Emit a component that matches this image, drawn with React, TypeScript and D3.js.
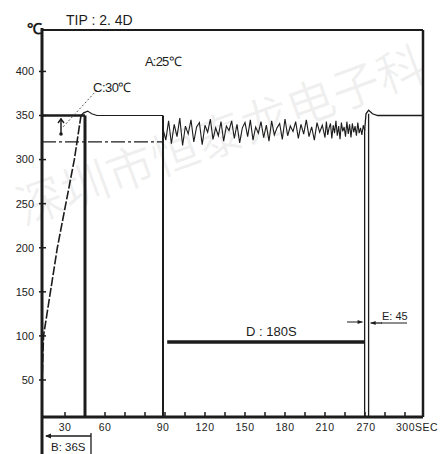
import React, { useEffect, useRef } from "react";
import * as d3 from "d3";

// axis labels
const tempTicks = [50, 100, 150, 200, 250, 300, 350, 400];
const timeTicks = [30, 60, 90, 120, 150, 180, 210, 270, 300];
const timeLabels = ["30", "60", "90", "120", "150", "180", "210", "270", "300SEC"];

// heat-up ramp (dashed) then overshoot and settle at set point
const rampTime = [0, 2, 20, 37, 42];
const rampTemp = [45, 100, 200, 300, 350];
const settleTime = [42, 44, 47, 50, 54, 90];
const settleTemp = [350, 353, 355, 352, 350, 350];

// D phase: tip under load, 90s .. 268s every 2s
const loadStart = 90;
const loadStep = 2;
const loadTemp = [
  335, 322, 344, 318, 340, 326, 347, 316, 338, 329,
  345, 320, 337, 342, 317, 339, 331, 346, 323, 336,
  327, 343, 321, 338, 333, 344, 324, 340, 319, 336,
  342, 326, 345, 322, 337, 330, 343, 325, 339, 321,
  344, 328, 336, 341, 323, 346, 327, 338, 332, 343,
  324, 340, 329, 345, 326, 337, 322, 342, 331, 339,
  325, 343, 328, 336, 341, 324, 339, 330, 344, 327,
  338, 323, 342, 332, 337, 326, 343, 329, 340, 325,
  341, 331, 338, 327, 342, 330, 336, 328, 339, 333,
];

// recovery after load removed
const recTime = [268, 270, 272, 275, 279, 313];
const recTemp = [333, 352, 356, 352, 350, 350];

const setPoint = 350;
const lowLine = 320;
const ink = "#1c1c1c";

function App() {
  const ref = useRef<SVGSVGElement>(null);

  useEffect(() => {
    const h = 454;
    const svg = d3.select(ref.current);
    svg.selectAll("*").remove();

    // the printed time axis is not uniform, so use a polylinear scale
    const x = d3
      .scaleLinear()
      .domain([0, 30, 60, 90, 120, 150, 180, 210, 270, 300, 313])
      .range([42, 65, 105, 163, 205, 245, 285, 325, 366, 405, 423]);
    const y = d3.scaleLinear().domain([8, 447]).range([417, 30]);

    const font = "'Liberation Sans', Arial, sans-serif";

    // watermark
    svg
      .append("text")
      .attr("transform", "translate(222,140) rotate(-20)")
      .attr("text-anchor", "middle")
      .attr("dominant-baseline", "middle")
      .attr("font-family", "'Noto Sans CJK SC', sans-serif")
      .attr("font-size", 48)
      .attr("fill", "#000")
      .attr("fill-opacity", 0.06)
      .text("深圳市恒泰龙电子科");

    const x0 = x(0);
    const x1 = x(313);
    const yTop = y(447);
    const yBot = y(8);

    // frame
    svg.append("line").attr("x1", x0).attr("x2", x1).attr("y1", yTop).attr("y2", yTop)
      .attr("stroke", ink).attr("stroke-width", 2);
    svg.append("line").attr("x1", x1).attr("x2", x1).attr("y1", yTop).attr("y2", yBot)
      .attr("stroke", ink).attr("stroke-width", 2.5);
    svg.append("line").attr("x1", x0).attr("x2", x1).attr("y1", yBot).attr("y2", yBot)
      .attr("stroke", ink).attr("stroke-width", 3);
    svg.append("line").attr("x1", x0).attr("x2", x0).attr("y1", yTop - 2).attr("y2", h)
      .attr("stroke", ink).attr("stroke-width", 3);

    // y ticks + labels
    const yt = svg.append("g");
    yt.selectAll("line").data(tempTicks).enter().append("line")
      .attr("x1", x0 - 3).attr("x2", x0 + 4)
      .attr("y1", (d) => y(d)).attr("y2", (d) => y(d))
      .attr("stroke", ink).attr("stroke-width", 1.5);
    yt.selectAll("text").data(tempTicks).enter().append("text")
      .attr("x", 34).attr("y", (d) => y(d)).attr("dy", "0.35em")
      .attr("text-anchor", "end").attr("font-family", font).attr("font-size", 11)
      .attr("fill", "#222").text((d) => d);

    // x ticks
    svg.append("g").selectAll("line")
      .data(d3.range(x(30), x(300) + 1, 20)).enter().append("line")
      .attr("x1", (d) => d).attr("x2", (d) => d)
      .attr("y1", yBot).attr("y2", yBot - 5)
      .attr("stroke", ink).attr("stroke-width", 1.5);
    svg.append("g").selectAll("text")
      .data(timeTicks).enter().append("text")
      .attr("x", (d) => x(d)).attr("y", 431)
      .attr("text-anchor", (d, i) => (i === timeTicks.length - 1 ? "start" : "middle"))
      .attr("dx", (d, i) => (i === timeTicks.length - 1 ? -9 : 0))
      .attr("font-family", font).attr("font-size", 10.5)
      .attr("fill", "#222").attr("letter-spacing", 0.5)
      .text((d, i) => timeLabels[i]);

    // reference lines
    svg.append("line").attr("x1", x0).attr("x2", x(45)).attr("y1", y(setPoint)).attr("y2", y(setPoint))
      .attr("stroke", ink).attr("stroke-width", 2.5);
    svg.append("line").attr("x1", x0).attr("x2", x(90)).attr("y1", y(lowLine)).attr("y2", y(lowLine))
      .attr("stroke", ink).attr("stroke-width", 1.2).attr("stroke-dasharray", "14,3,3,3");

    // vertical phase lines
    const verts = [
      { t: 45, top: setPoint, sw: 3 },
      { t: 90, top: setPoint, sw: 2 },
      { t: 268, top: 335, sw: 1.3 },
      { t: 272, top: 352, sw: 1.3 },
    ];
    svg.append("g").selectAll("line").data(verts).enter().append("line")
      .attr("x1", (d) => x(d.t)).attr("x2", (d) => x(d.t))
      .attr("y1", (d) => y(d.top)).attr("y2", yBot)
      .attr("stroke", ink).attr("stroke-width", (d) => d.sw);

    const line = d3.line<[number, number]>().x((d) => x(d[0])).y((d) => y(d[1]));

    svg.append("path")
      .attr("d", line(rampTime.map((t, i) => [t, rampTemp[i]])))
      .attr("fill", "none").attr("stroke", ink).attr("stroke-width", 1.6)
      .attr("stroke-dasharray", "9,2");
    svg.append("path")
      .attr("d", line(settleTime.map((t, i) => [t, settleTemp[i]])))
      .attr("fill", "none").attr("stroke", ink).attr("stroke-width", 1.2);
    svg.append("path")
      .attr("d", line(loadTemp.map((v, i) => [loadStart + i * loadStep, v])))
      .attr("fill", "none").attr("stroke", ink).attr("stroke-width", 1.1);
    svg.append("path")
      .attr("d", line(recTime.map((t, i) => [t, recTemp[i]])))
      .attr("fill", "none").attr("stroke", ink).attr("stroke-width", 1.3);

    // annotations
    const txt = (tx: number, ty: number, s: string, size: number) =>
      svg.append("text").attr("x", tx).attr("y", ty).attr("font-family", font)
        .attr("font-size", size).attr("fill", ink).text(s);

    txt(27, 34, "℃", 15).attr("font-weight", "bold");
    txt(66, 25, "TIP : 2. 4D", 14);
    txt(145, 66, "A:25℃", 13).attr("letter-spacing", -0.8);
    txt(93, 92, "C:30℃", 13).attr("letter-spacing", -0.5);
    txt(246, 336, "D : 180S", 13);
    txt(382, 320, "E: 45", 11);
    txt(51, 451, "B: 36S", 11.5);

    // C leader and marker
    svg.append("line").attr("x1", 97).attr("x2", 63).attr("y1", 90).attr("y2", 127)
      .attr("stroke", "#555").attr("stroke-width", 1).attr("stroke-dasharray", "2,2");
    svg.append("line").attr("x1", 61).attr("x2", 61).attr("y1", y(setPoint) + 3).attr("y2", y(lowLine) - 8)
      .attr("stroke", ink).attr("stroke-width", 1.5);
    svg.append("circle").attr("cx", 61).attr("cy", y(lowLine) - 8).attr("r", 1.8).attr("fill", ink);
    svg.append("path").attr("d", "M58,123 L61,119 L64,123").attr("fill", "none")
      .attr("stroke", ink).attr("stroke-width", 1.4);

    // D bar
    svg.append("line").attr("x1", x(93)).attr("x2", x(268)).attr("y1", y(93)).attr("y2", y(93))
      .attr("stroke", ink).attr("stroke-width", 3.5);

    // E arrows
    const ey = 322;
    svg.append("line").attr("x1", 347).attr("x2", x(268) - 2).attr("y1", ey).attr("y2", ey)
      .attr("stroke", ink).attr("stroke-width", 1);
    svg.append("path").attr("d", `M${x(268) - 2},${ey} l-5,-2 l0,4 z`).attr("fill", ink);
    svg.append("line").attr("x1", x(272) + 2).attr("x2", 382).attr("y1", ey + 1).attr("y2", ey + 1)
      .attr("stroke", ink).attr("stroke-width", 1.3);
    svg.append("path").attr("d", `M${x(272) + 2},${ey + 1} l5,-2 l0,4 z`).attr("fill", ink);
    svg.append("line").attr("x1", 381).attr("x2", 407).attr("y1", 323).attr("y2", 323)
      .attr("stroke", ink).attr("stroke-width", 1);

    // B arrow
    svg.append("line").attr("x1", x0 + 4).attr("x2", 91).attr("y1", 436).attr("y2", 436)
      .attr("stroke", ink).attr("stroke-width", 1.3);
    svg.append("path").attr("d", `M${x0 + 3},436 l6,-2.5 l0,5 z`).attr("fill", ink);
    svg.append("line").attr("x1", 91).attr("x2", 91).attr("y1", 433).attr("y2", h)
      .attr("stroke", ink).attr("stroke-width", 1.3);
  }, []);

  return (
    <svg
      ref={ref}
      width={447}
      height={454}
      style={{ position: "absolute", left: 0, top: 0, background: "#fff" }}
    />
  );
}

export default App;
